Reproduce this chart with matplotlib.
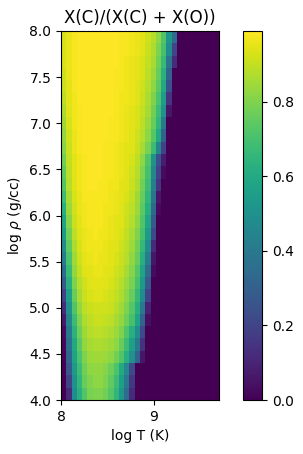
import matplotlib
matplotlib.use('Agg')
import matplotlib.pyplot as plt
import numpy as np

# grid extent of the composition table
log_t_range = [8.0, 9.7]
log_rho_range = [4.0, 8.0]

# X(C)/(X(C)+X(O)) in percent, one list per log rho row (top = 8.0, bottom = 4.0),
# 30 log T columns from 8.0 to 9.7; trailing cells not listed are zero
frac_rows = [
    [93, 96, 98, 99, 99, 99, 99, 99, 99, 99, 99, 98, 98, 97, 96, 95, 92, 88, 82, 72, 52, 35],
    [93, 96, 98, 99, 99, 99, 99, 99, 99, 99, 99, 98, 98, 97, 96, 94, 91, 87, 80, 70, 48, 20],
    [93, 96, 98, 99, 99, 99, 99, 99, 99, 99, 99, 98, 97, 96, 95, 93, 90, 86, 78, 67, 38, 12],
    [92, 96, 98, 99, 99, 99, 99, 99, 99, 99, 98, 98, 97, 96, 95, 93, 89, 84, 76, 63, 32],
    [91, 95, 98, 99, 99, 99, 99, 99, 99, 99, 98, 98, 97, 96, 94, 92, 88, 82, 74, 60, 25],
    [89, 95, 97, 99, 99, 99, 99, 99, 99, 99, 98, 97, 97, 96, 94, 91, 87, 80, 71, 55, 15],
    [87, 94, 97, 98, 99, 99, 99, 99, 99, 99, 98, 97, 96, 95, 93, 90, 86, 78, 68, 50, 6],
    [85, 93, 97, 98, 99, 99, 99, 99, 99, 98, 98, 97, 96, 95, 93, 89, 84, 76, 65, 40],
    [83, 92, 96, 98, 99, 99, 99, 99, 99, 98, 98, 97, 96, 94, 92, 88, 82, 73, 60, 32],
    [81, 91, 96, 98, 99, 99, 99, 99, 98, 98, 97, 96, 95, 94, 91, 86, 79, 68, 45, 20],
    [78, 90, 95, 97, 98, 99, 99, 99, 98, 98, 97, 96, 95, 93, 89, 82, 72, 50, 25, 8],
    [75, 89, 95, 97, 98, 99, 99, 99, 98, 98, 97, 96, 94, 92, 88, 80, 70, 46, 20, 3],
    [72, 88, 94, 97, 98, 99, 99, 98, 98, 97, 97, 95, 94, 91, 87, 78, 68, 42, 15],
    [68, 86, 93, 96, 98, 98, 98, 98, 98, 97, 96, 95, 93, 90, 85, 76, 65, 38, 6],
    [63, 84, 92, 96, 97, 98, 98, 98, 97, 97, 96, 94, 92, 89, 84, 74, 62, 33, 3],
    [58, 81, 91, 95, 97, 98, 98, 98, 97, 96, 95, 94, 91, 88, 82, 72, 58, 28],
    [54, 78, 89, 94, 96, 97, 98, 97, 97, 96, 95, 93, 90, 86, 80, 70, 54, 22],
    [48, 75, 87, 93, 96, 97, 97, 97, 96, 95, 94, 92, 89, 85, 78, 66, 48, 12],
    [42, 71, 85, 92, 95, 96, 97, 96, 96, 95, 93, 91, 88, 83, 76, 62, 42, 6],
    [35, 67, 83, 90, 94, 95, 96, 96, 95, 94, 92, 90, 86, 81, 73, 58, 35, 3],
    [28, 62, 80, 88, 92, 94, 95, 95, 94, 93, 91, 88, 84, 79, 70, 54, 28],
    [20, 56, 76, 86, 91, 93, 94, 94, 93, 92, 90, 87, 82, 76, 66, 48, 20],
    [13, 50, 72, 83, 89, 91, 92, 92, 92, 91, 88, 85, 80, 73, 62, 40, 10],
    [7, 45, 68, 80, 87, 89, 91, 91, 90, 89, 86, 83, 77, 70, 57, 32, 4],
    [3, 40, 64, 77, 85, 88, 89, 89, 88, 87, 84, 80, 72, 62, 48, 22],
    [2, 36, 60, 74, 83, 86, 87, 87, 86, 85, 82, 76, 68, 56, 40, 14],
    [1, 32, 57, 71, 80, 84, 85, 85, 84, 82, 78, 72, 62, 50, 32, 6],
    [1, 27, 54, 68, 78, 82, 83, 83, 81, 77, 71, 60, 46, 22],
    [0, 20, 51, 65, 76, 80, 82, 82, 80, 75, 68, 56, 40, 16],
    [0, 12, 48, 62, 72, 79, 80, 80, 78, 73, 65, 52, 35, 12],
]
n_cols = 30

grid = np.zeros((len(frac_rows), n_cols))
for i, row in enumerate(frac_rows):
    grid[i, :len(row)] = np.array(row) / 100.0

fig = plt.figure(figsize=(3.03, 4.54), dpi=100)
ax = fig.add_axes([61 / 303, 1 - 400 / 454, 158 / 303, 369 / 454])
im = ax.imshow(grid, cmap='viridis', interpolation='nearest', aspect='auto',
               extent=[log_t_range[0], log_t_range[1],
                       log_rho_range[0], log_rho_range[1]])
ax.set_xticks([8, 9])
ax.set_yticks(np.arange(4.0, 8.01, 0.5))
ax.set_xlabel('log T (K)')
ax.set_ylabel(r'log $\rho$ (g/cc)')
ax.set_title('X(C)/(X(C) + X(O))')

cax = fig.add_axes([243 / 303, 1 - 400 / 454, 19 / 303, 369 / 454])
cb = fig.colorbar(im, cax=cax)
cb.set_ticks([0.0, 0.2, 0.4, 0.6, 0.8])

fig.savefig('out.png', dpi=100)
